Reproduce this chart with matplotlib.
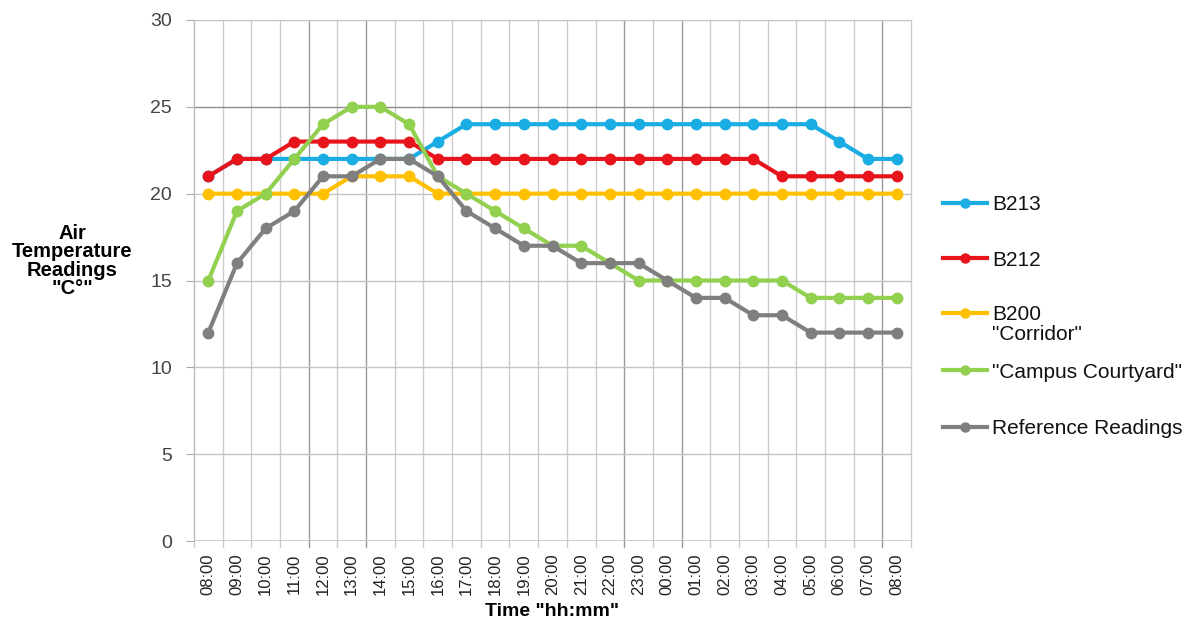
import matplotlib
matplotlib.use("Agg")
import matplotlib.pyplot as plt
from matplotlib.lines import Line2D
import numpy as np

times = ["08:00", "09:00", "10:00", "11:00", "12:00", "13:00", "14:00", "15:00",
         "16:00", "17:00", "18:00", "19:00", "20:00", "21:00", "22:00", "23:00",
         "00:00", "01:00", "02:00", "03:00", "04:00", "05:00", "06:00", "07:00", "08:00"]

b213 = [21, 22, 22, 22, 22, 22, 22, 22, 23, 24, 24, 24, 24, 24, 24, 24,
        24, 24, 24, 24, 24, 24, 23, 22, 22]
b212 = [21, 22, 22, 23, 23, 23, 23, 23, 22, 22, 22, 22, 22, 22, 22, 22,
        22, 22, 22, 22, 21, 21, 21, 21, 21]
b200 = [20, 20, 20, 20, 20, 21, 21, 21, 20, 20, 20, 20, 20, 20, 20, 20,
        20, 20, 20, 20, 20, 20, 20, 20, 20]
courtyard = [15, 19, 20, 22, 24, 25, 25, 24, 21, 20, 19, 18, 17, 17, 16, 15,
             15, 15, 15, 15, 15, 14, 14, 14, 14]
reference = [12, 16, 18, 19, 21, 21, 22, 22, 21, 19, 18, 17, 17, 16, 16, 16,
             15, 14, 14, 13, 13, 12, 12, 12, 12]

labels = ["B213", "B212", "B200\n\"Corridor\"", "\"Campus Courtyard\"", "Reference Readings"]
colors = ["#1AADE4", "#E8141B", "#FFC000", "#92D050", "#7F7F7F"]
values = [b213, b212, b200, courtyard, reference]

plt.rcParams['font.family'] = ['Liberation Sans', 'DejaVu Sans']

W, H = 1198, 623
fig = plt.figure(figsize=(W / 100, H / 100), dpi=100)
ax = fig.add_axes([194 / W, 1 - 541 / H, (911 - 194) / W, (541 - 20) / H])

x = np.arange(len(times))
n = len(times)

# vertical grid at category boundaries (extending slightly below the axis as ticks)
dark_bounds = {4, 6, 15, 17, 24}
for k in range(n + 1):
    xb = k - 0.5
    col = "#9a9a9a" if k in dark_bounds else "#cccccc"
    ax.plot([xb, xb], [-0.35, 30], color=col, lw=1.0, zorder=1, clip_on=False)

# horizontal grid
for yv in [5, 10, 15, 20, 25, 30]:
    col = "#8c8c8c" if yv == 25 else "#c4c4c4"
    ax.axhline(yv, color=col, lw=1.0, zorder=1)
ax.axhline(0, color="#c4c4c4", lw=1.2, zorder=1)

for label, vals, col in zip(labels, values, colors):
    ax.plot(x, vals, color=col, lw=3, marker="o", markersize=7.5,
            label=label, zorder=3, solid_capstyle="round")

ax.set_xlim(-0.5, n - 0.5)
ax.set_ylim(0, 30)
ax.set_yticks([0, 5, 10, 15, 20, 25, 30])
ax.set_xticks(x)
ax.set_xticklabels(times, rotation=90, fontsize=12, color="#222222")
ax.tick_params(axis="x", length=0, pad=9)
ax.tick_params(axis="y", length=6, color="#aaaaaa", labelsize=14, labelcolor="#444444", pad=10)

for s in ["top", "right", "bottom"]:
    ax.spines[s].set_visible(False)
ax.spines["left"].set_color("#bbbbbb")

fig.text(72 / W, 1 - 261 / H, "Air\nTemperature\nReadings\n\"C°\"",
         ha="center", va="center", fontsize=14.5, fontweight="bold", linespacing=0.95)
fig.text(552 / W, 1 - 612 / H, "Time \"hh:mm\"", ha="center", va="center",
         fontsize=14, fontweight="bold")

# legend (manual placement)
leg_y = [203, 258, 313, 370, 427]
for lab, col, yy in zip(labels, colors, leg_y):
    fy = 1 - yy / H
    fig.add_artist(Line2D([943 / W, 987 / W], [fy, fy], transform=fig.transFigure,
                          color=col, lw=3))
    fig.add_artist(Line2D([965 / W], [fy], transform=fig.transFigure,
                          color=col, marker="o", markersize=6.5, lw=0))
    lines = lab.split("\n")
    for i, part in enumerate(lines):
        fig.text(992 / W, 1 - (yy + 19 * i) / H, part, ha="left", va="center_baseline",
                 fontsize=15, color="#111111")

fig.savefig("out.png", dpi=100)
